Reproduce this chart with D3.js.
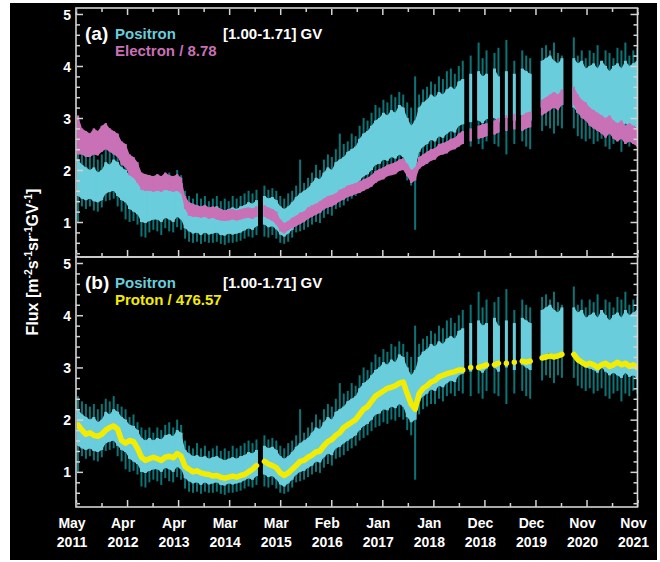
<!DOCTYPE html>
<html>
<head>
<meta charset="utf-8">
<script src="https://cdn.jsdelivr.net/npm/d3@7"></script>
<style>
body{margin:0;background:#fff}
text{font-family:"Liberation Sans",Arial,sans-serif;font-weight:bold}
</style>
</head>
<body>
<svg id="chart" width="660" height="562"></svg>
<script>
// time axis: one sample per Bartels rotation (27 days) from May 2011
const startDate = new Date(2011, 4, 20)
const spanDays = 3822
const tickStep = 347.5
const rotationDays = 27

const tickLabels = [["May","2011"],["Apr","2012"],["Apr","2013"],["Mar","2014"],["Mar","2015"],["Feb","2016"],
                    ["Jan","2017"],["Jan","2018"],["Dec","2018"],["Dec","2019"],["Nov","2020"],["Nov","2021"]]
const yMajor = [1, 2, 3, 4, 5]

// positron: spread of error bars (teal) and bulk of points (light cyan), per rotation
const posTealHi = [
 2.45,2.35,2.3,2.25,2.3,2.2,2.3,2.4,2.35,2.45,
 2.3,2.25,2.2,2.05,2.1,1.95,1.85,1.8,1.85,1.75,
 1.85,1.8,1.9,1.95,1.85,2.0,1.9,1.6,1.5,1.45,
 1.55,1.45,1.5,1.4,1.45,1.5,1.4,1.45,1.4,1.5,
 1.45,1.5,1.55,1.6,1.55,1.62,null,1.7,1.62,1.65,
 1.6,1.5,1.45,1.55,1.6,1.7,2.2,1.75,1.85,1.95,
 2.1,2.0,2.2,2.3,2.25,2.4,2.7,2.5,2.55,2.7,
 2.65,2.85,3.0,2.95,3.1,3.25,3.2,3.35,3.3,3.45,
 3.4,3.5,3.45,3.3,3.2,3.8,3.45,3.55,3.6,3.7,
 3.65,3.8,3.75,3.9,3.95,3.85,4.0,4.1,null,4.2,
 null,4.45,4.15,4.3,null,4.25,4.35,null,4.5,null,
 4.1,null,4.3,4.2,4.15,null,null,4.35,4.4,4.3,
 4.45,4.25,4.2,null,null,4.55,4.2,4.3,4.15,4.3,
 4.25,4.4,4.1,4.3,4.25,4.15,4.35,4.3,4.45,4.2,
 4.3,4.35]
const posHi = [
 2.2,2.1,2.05,2.0,2.05,1.95,2.0,2.15,2.1,2.2,
 2.15,2.05,2.0,1.9,1.88,1.8,1.65,1.6,1.65,1.6,
 1.65,1.62,1.7,1.72,1.68,1.8,1.75,1.42,1.35,1.3,
 1.32,1.28,1.3,1.25,1.28,1.3,1.25,1.22,1.25,1.28,
 1.25,1.3,1.32,1.38,1.35,1.42,null,1.5,1.45,1.48,
 1.42,1.3,1.25,1.3,1.38,1.48,1.55,1.6,1.65,1.75,
 1.85,1.82,1.95,2.05,2.0,2.15,2.2,2.25,2.35,2.4,
 2.45,2.6,2.7,2.75,2.85,2.95,3.0,3.1,3.05,3.15,
 3.1,3.25,3.2,3.0,2.85,2.95,3.2,3.3,3.35,3.45,
 3.4,3.5,3.45,3.55,3.6,3.55,3.7,3.75,null,3.85,
 null,3.9,3.8,3.85,null,3.95,3.8,null,3.9,null,
 3.85,null,3.95,3.9,3.85,null,null,4.1,4.15,4.2,
 4.1,4.05,4.15,null,null,4.15,4.05,4.1,3.95,4.0,
 4.05,3.95,4.1,4.0,3.9,4.0,4.05,3.95,4.1,4.0,
 4.05,4.1]
const posLo = [
 1.5,1.45,1.42,1.45,1.4,1.38,1.42,1.55,1.58,1.6,
 1.5,1.42,1.38,1.25,1.2,1.15,1.0,0.98,1.02,1.05,
 1.05,1.0,1.08,1.05,1.0,1.1,1.05,0.88,0.82,0.78,
 0.8,0.75,0.8,0.76,0.78,0.8,0.75,0.74,0.78,0.76,
 0.78,0.8,0.84,0.88,0.85,0.92,null,0.95,0.9,0.92,
 0.86,0.76,0.72,0.78,0.85,0.95,1.0,1.02,1.08,1.12,
 1.2,1.18,1.28,1.35,1.32,1.45,1.48,1.55,1.6,1.65,
 1.7,1.8,1.88,1.92,2.0,2.1,2.12,2.2,2.18,2.25,
 2.22,2.3,2.25,2.05,1.95,2.0,2.35,2.45,2.5,2.58,
 2.55,2.65,2.62,2.7,2.75,2.72,2.85,2.88,null,2.92,
 null,2.95,2.9,2.98,null,3.0,2.92,null,3.0,null,
 2.95,null,3.05,3.0,2.95,null,null,3.2,3.25,3.28,
 3.2,3.22,3.25,null,null,3.2,3.1,3.05,3.0,2.98,
 2.95,2.9,3.0,2.92,2.85,2.9,2.85,2.8,2.9,2.82,
 2.85,2.8]
const posTealLo = [
 1.0,1.3,1.25,1.3,1.22,1.2,1.28,1.4,1.42,1.45,
 1.3,1.2,1.05,1.0,1.02,0.95,0.72,0.7,0.8,0.85,
 0.82,0.75,0.88,0.82,0.8,0.9,0.85,0.68,0.62,0.6,
 0.62,0.58,0.62,0.6,0.6,0.62,0.58,0.56,0.6,0.6,
 0.62,0.64,0.68,0.72,0.7,0.75,null,0.72,0.7,0.75,
 0.68,0.6,0.58,0.62,0.7,0.8,0.82,0.85,0.9,0.95,
 1.0,0.98,1.08,1.15,1.12,1.25,1.28,1.32,1.4,1.45,
 1.5,1.6,1.65,1.7,1.78,1.85,1.88,1.95,1.92,2.0,
 1.98,2.05,2.0,1.8,1.7,0.85,2.1,2.2,2.25,2.3,
 2.3,2.4,2.35,2.45,2.5,2.45,2.55,2.5,null,2.45,
 null,2.5,2.4,2.55,null,2.5,2.45,null,2.3,null,
 2.5,null,2.55,2.45,2.4,null,null,2.75,2.85,2.8,
 2.7,2.85,2.8,null,null,2.8,2.65,2.6,2.55,2.6,
 2.5,2.55,2.6,2.45,2.4,2.5,2.55,2.35,2.5,2.45,
 2.55,2.5]

// electron / 8.78: upper and lower edge of the band
const eleHi = [
 3.05,2.8,2.75,2.7,2.8,2.75,2.85,2.9,2.8,2.75,
 2.7,2.55,2.5,2.3,2.25,2.15,1.95,1.92,1.9,1.88,
 1.92,1.88,1.95,1.9,1.88,1.92,1.85,1.5,1.38,1.35,
 1.32,1.3,1.33,1.28,1.3,1.28,1.25,1.22,1.24,1.25,
 1.22,1.25,1.27,1.28,1.26,1.3,null,1.32,1.28,1.25,
 1.2,1.05,0.98,1.02,1.08,1.12,1.18,1.2,1.28,1.32,
 1.35,1.4,1.45,1.5,1.52,1.55,1.62,1.65,1.7,1.72,
 1.75,1.78,1.82,1.85,1.9,1.98,2.02,2.05,2.1,2.12,
 2.15,2.2,2.22,2.12,2.0,2.05,2.25,2.3,2.35,2.4,
 2.42,2.5,2.52,2.55,2.6,2.62,2.7,2.75,null,2.8,
 null,2.85,2.88,2.9,null,2.95,3.0,null,3.05,null,
 3.08,null,3.05,3.1,3.12,null,null,3.35,3.4,3.45,
 3.5,3.45,3.55,null,null,3.6,3.45,3.35,3.3,3.2,
 3.15,3.1,3.05,3.0,3.05,2.95,2.9,2.95,2.85,2.9,
 2.85,2.8]
const eleLo = [
 2.3,2.3,2.25,2.25,2.3,2.28,2.35,2.4,2.35,2.3,
 2.25,2.1,2.05,1.9,1.85,1.75,1.62,1.6,1.6,1.58,
 1.6,1.58,1.62,1.6,1.58,1.6,1.55,1.25,1.12,1.1,
 1.1,1.08,1.1,1.06,1.08,1.05,1.03,1.02,1.03,1.05,
 1.03,1.05,1.07,1.08,1.06,1.1,null,1.1,1.06,1.02,
 0.95,0.82,0.78,0.84,0.88,0.92,0.96,1.0,1.06,1.1,
 1.14,1.18,1.24,1.28,1.3,1.34,1.4,1.43,1.48,1.5,
 1.54,1.56,1.6,1.64,1.68,1.75,1.8,1.82,1.88,1.9,
 1.92,1.98,2.0,1.88,1.75,1.8,2.02,2.08,2.12,2.18,
 2.2,2.28,2.3,2.32,2.38,2.4,2.45,2.5,null,2.55,
 null,2.6,2.62,2.65,null,2.68,2.72,null,2.75,null,
 2.78,null,2.75,2.8,2.82,null,null,3.05,3.1,3.15,
 3.2,3.15,3.25,null,null,3.25,3.1,3.0,2.95,2.85,
 2.8,2.75,2.7,2.62,2.7,2.6,2.55,2.6,2.5,2.55,
 2.5,2.45]

// proton / 476.57
const proton = [
 1.9,1.8,1.72,1.75,1.7,1.68,1.72,1.8,1.85,1.88,
 1.82,1.6,1.55,1.6,1.58,1.45,1.28,1.22,1.25,1.28,
 1.25,1.22,1.28,1.3,1.27,1.35,1.3,1.1,1.05,1.0,
 1.02,0.98,0.96,0.95,0.92,0.93,0.9,0.88,0.9,0.92,
 0.9,0.93,0.95,1.0,1.05,1.12,null,1.2,1.15,1.12,
 1.08,0.98,0.93,0.98,1.05,1.12,1.2,1.22,1.28,1.32,
 1.38,1.4,1.5,1.58,1.62,1.7,1.75,1.85,1.9,1.95,
 2.0,2.1,2.2,2.25,2.35,2.45,2.5,2.55,2.6,2.62,
 2.65,2.7,2.72,2.5,2.3,2.2,2.5,2.6,2.65,2.72,
 2.75,2.82,2.85,2.88,2.9,2.92,2.95,2.95,null,3.0,
 null,3.0,3.02,3.05,null,3.05,3.08,null,3.08,null,
 3.1,null,3.12,3.1,3.12,null,null,3.18,3.2,3.22,
 3.2,3.22,3.25,null,null,3.25,3.15,3.1,3.05,3.08,
 3.05,3.0,3.05,3.08,3.02,3.05,3.1,3.05,3.08,3.02,
 3.05,3.0]

const dayOffset = d => new Date(startDate.getTime() + d*864e5)
const sampleDate = k => dayOffset(rotationDays*k + rotationDays/2)

const axisColor = '#d4d4d4'
const cyan = '#6acddc', teal = '#0c7476'

const svg = d3.select('#chart')
svg.append('rect').attr('x', 10).attr('y', 3).attr('width', 647).attr('height', 557).attr('fill', '#000')

const x = d3.scaleTime().domain([startDate, dayOffset(spanDays)]).range([76, 637.5])
const majorDates = tickLabels.map((d, i) => dayOffset(i*tickStep))
const minorDates = d3.range(tickLabels.length - 1).map(i => dayOffset((i + 0.5)*tickStep))
const yMinor = d3.range(2, 26).map(i => i/5).filter(v => Math.abs(v - Math.round(v)) > 1e-6)

const panels = [
  {id:'a', top:8, bottom:257, tag:'(a)', name:'Electron / 8.78', color:'#c971b6', topTicks:true},
  {id:'b', top:257, bottom:507, tag:'(b)', name:'Proton / 476.57', color:'#f4ec00', topTicks:false}
]

const idx = d3.range(posHi.length)

function styleAxis(g){
  g.select('.domain').remove()
  g.selectAll('line').attr('stroke', axisColor).attr('stroke-width', 1.5)
  g.attr('font-family', null).attr('font-size', null)
}

// one bar per sample, from lo to hi
function bars(plot, y, hi, lo, color, barWidth){
  plot.append('g').selectAll('rect').data(idx.filter(k => hi[k] != null)).join('rect')
    .attr('x', k => x(sampleDate(k)) - barWidth/2).attr('width', barWidth)
    .attr('y', k => y(hi[k])).attr('height', k => y(lo[k]) - y(hi[k]))
    .attr('fill', color)
}
// band = linear area over continuous runs + bars (keeps isolated samples)
function band(plot, y, hi, lo, color, barWidth){
  const area = d3.area().defined(k => hi[k] != null)
    .x(k => x(sampleDate(k))).y0(k => y(lo[k])).y1(k => y(hi[k]))
  plot.append('path').attr('d', area(idx)).attr('fill', color)
  bars(plot, y, hi, lo, color, barWidth)
}

panels.forEach(p => {
  const y = d3.scaleLinear().domain([0.327, 5.115]).range([p.bottom, p.top])
  const g = svg.append('g').attr('class', 'panel-' + p.id)

  g.append('clipPath').attr('id', 'clip-' + p.id)
    .append('rect').attr('x', 76).attr('y', p.top).attr('width', 561.5).attr('height', p.bottom - p.top)
  const plot = g.append('g').attr('clip-path', `url(#clip-${p.id})`)

  bars(plot, y, posTealHi, posTealLo, teal, 2)
  band(plot, y, posHi, posLo, cyan, 3)

  if (p.id == 'a') {
    band(plot, y, eleHi, eleLo, p.color, 2.4)
  } else {
    const line = d3.line().defined(k => proton[k] != null)
      .x(k => x(sampleDate(k))).y(k => y(proton[k]))
    plot.append('path').attr('d', line(idx))
      .attr('fill', 'none').attr('stroke', p.color).attr('stroke-width', 5.5)
      .attr('stroke-linejoin', 'round').attr('stroke-linecap', 'round')
  }

  // y axes, ticks inward
  const left = g.append('g').attr('transform', 'translate(76,0)')
  left.call(d3.axisLeft(y).tickValues(yMajor).tickSize(-7).tickPadding(5).tickFormat(d3.format('d')))
  left.append('g').call(d3.axisLeft(y).tickValues(yMinor).tickSize(-4).tickFormat(''))
  styleAxis(left); styleAxis(left.select('g'))
  left.selectAll('text').attr('fill', '#fff').attr('font-size', 14).attr('dy', '0.36em')

  const right = g.append('g').attr('transform', 'translate(637.5,0)')
  right.call(d3.axisRight(y).tickValues(yMajor).tickSize(-7).tickFormat(''))
  right.append('g').call(d3.axisRight(y).tickValues(yMinor).tickSize(-4).tickFormat(''))
  styleAxis(right); styleAxis(right.select('g'))

  // x ticks
  if (p.topTicks) {
    const top = g.append('g').attr('transform', `translate(0,${p.top})`)
    top.call(d3.axisTop(x).tickValues(majorDates).tickSize(-7).tickFormat(''))
    top.append('g').call(d3.axisTop(x).tickValues(minorDates).tickSize(-4).tickFormat(''))
    styleAxis(top); styleAxis(top.select('g'))
  }
  const bot = g.append('g').attr('transform', `translate(0,${p.bottom})`)
  bot.call(d3.axisBottom(x).tickValues(majorDates).tickSize(-7).tickFormat(''))
  bot.append('g').call(d3.axisBottom(x).tickValues(minorDates).tickSize(-4).tickFormat(''))
  styleAxis(bot); styleAxis(bot.select('g'))

  // frame
  g.append('rect').attr('x', 76).attr('y', p.top).attr('width', 561.5).attr('height', p.bottom - p.top)
    .attr('fill', 'none').attr('stroke', axisColor).attr('stroke-width', 1.6)

  // legend
  const base = p.top + 31
  g.append('text').attr('x', 85).attr('y', base + 1).attr('font-size', 19).attr('fill', '#fff').text(p.tag)
  g.append('text').attr('x', 115).attr('y', base).attr('font-size', 15).attr('fill', cyan).text('Positron')
  g.append('text').attr('x', 115).attr('y', base + 17).attr('font-size', 15).attr('fill', p.color).text(p.name)
  g.append('text').attr('x', 223).attr('y', base).attr('font-size', 15).attr('fill', '#fff').text('[1.00-1.71] GV')
})

// date labels under panel (b)
const labels = svg.append('g').attr('fill', '#fff').attr('font-size', 14).attr('text-anchor', 'middle')
tickLabels.forEach((d, i) => {
  const t = labels.append('text').attr('x', x(majorDates[i]) - 4)
  t.append('tspan').attr('x', x(majorDates[i]) - 4).attr('y', 528).text(d[0])
  t.append('tspan').attr('x', x(majorDates[i]) - 4).attr('y', 547).text(d[1])
})

// y title
const title = svg.append('text').attr('transform', 'translate(38,262) rotate(-90)')
  .attr('text-anchor', 'middle').attr('fill', '#fff').attr('font-size', 16)
const parts = [['Flux [m',''],['-2','sup'],['s',''],['-1','sup'],['sr',''],['-1','sup'],['GV',''],['-1','sup'],[']','']]
parts.forEach(([s, kind]) => {
  const ts = title.append('tspan').text(s)
  if (kind == 'sup') ts.attr('font-size', 10.5).attr('dy', -6)
  else if (s != 'Flux [m') ts.attr('dy', 6)
})
</script>
</body>
</html>
